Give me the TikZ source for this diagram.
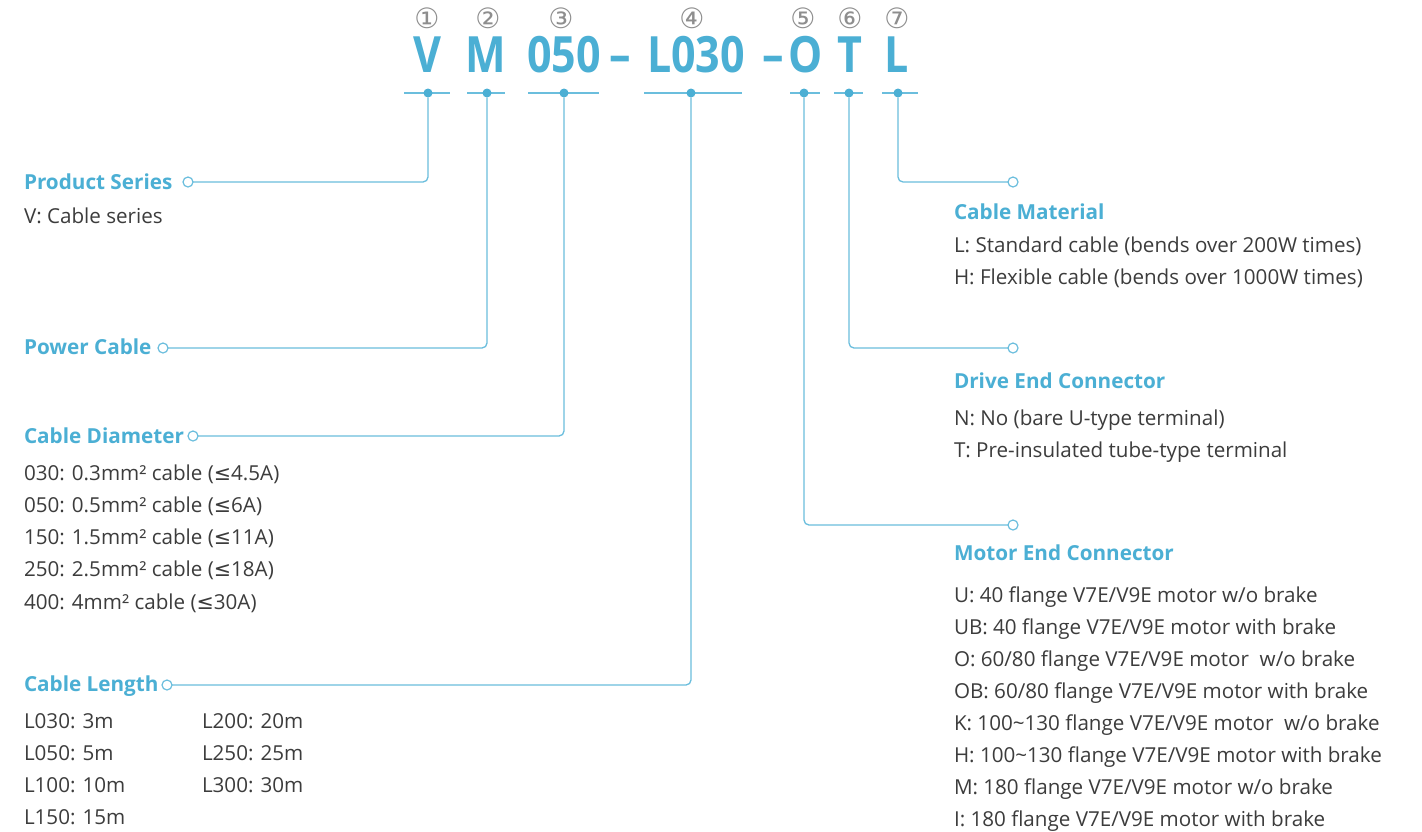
\documentclass[tikz,border=0pt]{standalone}
\usepackage{fontspec}
\setmainfont{Open Sans}
\newfontfamily\codefont[FakeStretch=0.86]{Open Sans}
\newfontfamily\symfont{DejaVu Sans}
\usetikzlibrary{positioning}
\definecolor{CodeBlue}{HTML}{4BAFD4}
\definecolor{LinkBlue}{HTML}{6BBEDD}
\definecolor{BodyGray}{HTML}{3C3C3C}
\definecolor{NumGray}{HTML}{8E8E8E}
\newcommand{\lesym}{{\symfont ≤}}
\tikzset{
  every node/.style = {inner sep=0pt, outer sep=0pt, text=BodyGray},
  codechar/.style   = {anchor=base, text=CodeBlue, text height=35pt,
                       text depth=0pt,
                       font=\codefont\bfseries\fontsize{50}{50}\selectfont},
  codenum/.style    = {text=NumGray, font=\symfont\fontsize{28}{28}\selectfont},
  tick/.style       = {draw=LinkBlue, line width=1.3pt},
  tickdot/.style    = {circle, fill=CodeBlue, minimum size=9pt},
  link/.style       = {draw=LinkBlue, line width=1.3pt, rounded corners=5pt},
  endring/.style    = {circle, draw=LinkBlue, fill=white, line width=1.2pt,
                       minimum size=10pt},
  head/.style       = {anchor=base west, text=CodeBlue,
                       font=\bfseries\fontsize{20.7}{20.7}\selectfont},
  body/.style       = {anchor=base west, font=\fontsize{20.6}{20.6}\selectfont},
}

\begin{document}
\begin{tikzpicture}[x=1pt, y=-1pt]
\useasboundingbox[fill=white] (0,0) rectangle (1422,831);

% =========================================================================
% Model code
% =========================================================================
\node[codechar] (cV)    at (427,72) {V};
\node[codechar] (cM)    at (486,72) {M};
\node[codechar] (c050)  at (564,72) {050};
\node[codechar] (dash1) at (620,72) {–};
\node[codechar] (c030)  at (696,72) {L030};
\node[codechar] (dash2) at (773,72) {–};
\node[codechar] (cO)    at (806,72) {O};
\node[codechar] (cT)    at (850,72) {T};
\node[codechar] (cL)    at (897,72) {L};

% --- position numbers ----------------------------------------------------
\node[codenum] (n1) at (427,18) {①};
\node[codenum] (n2) at (488,18) {②};
\node[codenum] (n3) at (561,18) {③};
\node[codenum] (n4) at (692,18) {④};
\node[codenum] (n5) at (803,18) {⑤};
\node[codenum] (n6) at (850,18) {⑥};
\node[codenum] (n7) at (897,18) {⑦};

% --- ticks under each field ----------------------------------------------
\draw[tick] (404,93) -- (450,93);
\draw[tick] (467,93) -- (505,93);
\draw[tick] (528,93) -- (599,93);
\draw[tick] (644,93) -- (742,93);
\draw[tick] (790,93) -- (820,93);
\draw[tick] (834,93) -- (863,93);
\draw[tick] (882,93) -- (918,93);

\node[tickdot] (dV)   at (428,93) {};
\node[tickdot] (dM)   at (487,93) {};
\node[tickdot] (d050) at (564,93) {};
\node[tickdot] (d030) at (691,93) {};
\node[tickdot] (dO)   at (804,93) {};
\node[tickdot] (dT)   at (849,93) {};
\node[tickdot] (dL)   at (898,93) {};

% =========================================================================
% Rings at the ends of the connectors
% =========================================================================
\node[endring] (rPS) at (188,182)  {};
\node[endring] (rPC) at (163,348)  {};
\node[endring] (rCD) at (193,436)  {};
\node[endring] (rCL) at (167,685)  {};
\node[endring] (rCM) at (1013,182) {};
\node[endring] (rDE) at (1013,348) {};
\node[endring] (rME) at (1013,525) {};

% connectors
\draw[link] (dV)   |- (rPS);
\draw[link] (dM)   |- (rPC);
\draw[link] (d050) |- (rCD);
\draw[link] (d030) |- (rCL);
\draw[link] (dL)   |- (rCM);
\draw[link] (dT)   |- (rDE);
\draw[link] (dO)   |- (rME);

% =========================================================================
% Left descriptions
% =========================================================================
\node[head] (hPS) at (24,189) {Product Series};
\node[body] (bPS) at (24,223) {V: Cable series};

\node[head] (hPC) at (24,354) {Power Cable};

\node[head] (hCD) at (24,443) {Cable Diameter};
\foreach \t [count=\i] in {{030: 0.3mm² cable (\lesym4.5A)},
                           {050: 0.5mm² cable (\lesym6A)},
                           {150: 1.5mm² cable (\lesym11A)},
                           {250: 2.5mm² cable (\lesym18A)},
                           {400: 4mm² cable (\lesym30A)}}
  \node[body] (bCD\i) at (24,{480+32.25*(\i-1)}) {\t};

\node[head] (hCL) at (24,691) {Cable Length};
\foreach \t [count=\i] in {L030: 3m, L050: 5m, L100: 10m, L150: 15m}
  \node[body] (bCLa\i) at (24,{728+32.3*(\i-1)}) {\t};
\foreach \t [count=\i] in {L200: 20m, L250: 25m, L300: 30m}
  \node[body] (bCLb\i) at (202,{728+32.3*(\i-1)}) {\t};

% =========================================================================
% Right descriptions
% =========================================================================
\node[head] (hCM) at (954,219) {Cable Material};
\node[body] (bCM1) at (954,252) {L: Standard cable (bends over 200W times)};
\node[body] (bCM2) at (954,284.5) {H: Flexible cable (bends over 1000W times)};

\node[head] (hDE) at (954,388) {Drive End Connector};
\node[body] (bDE1) at (954,425) {N: No (bare U-type terminal)};
\node[body] (bDE2) at (954,457) {T: Pre-insulated tube-type terminal};

\node[head] (hME) at (954,560) {Motor End Connector};
\foreach \t [count=\i] in {{U: 40 flange V7E/V9E motor w/o brake},
                           {UB: 40 flange V7E/V9E motor with brake},
                           {O: 60/80 flange V7E/V9E motor\ \ w/o brake},
                           {OB: 60/80 flange V7E/V9E motor with brake},
                           {K: 100\textasciitilde130 flange V7E/V9E motor\ \ w/o brake},
                           {H: 100\textasciitilde130 flange V7E/V9E motor with brake},
                           {M: 180 flange V7E/V9E motor w/o brake},
                           {I: 180 flange V7E/V9E motor with brake}}
  \node[body] (bME\i) at (954,{602+32.1*(\i-1)}) {\t};

\end{tikzpicture}
\end{document}
